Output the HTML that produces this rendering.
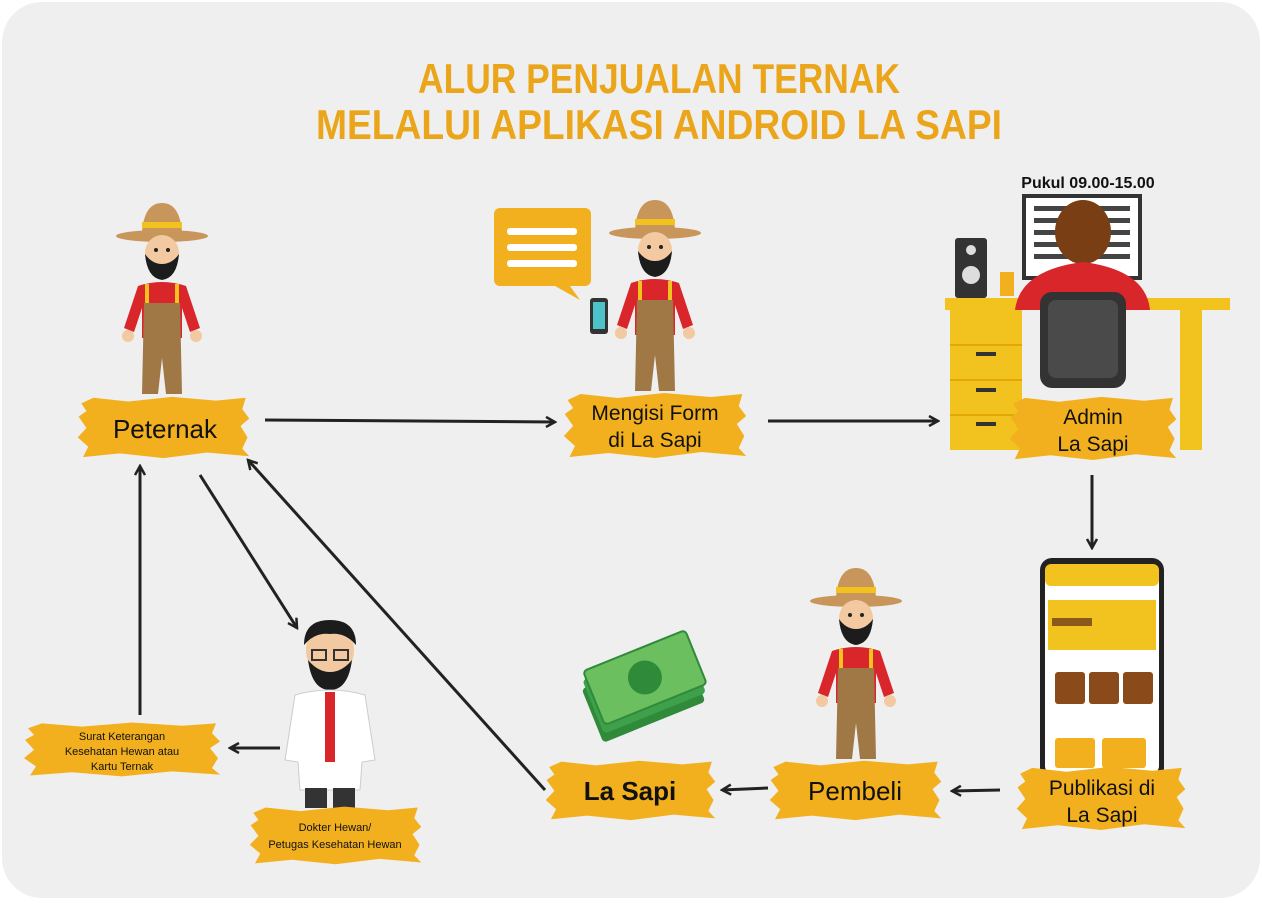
<!DOCTYPE html>
<html><head><meta charset="utf-8">
<style>
html,body{margin:0;padding:0;background:#fff;}
body{width:1262px;height:900px;overflow:hidden;font-family:"Liberation Sans",sans-serif;}
</style></head>
<body>
<svg width="1262" height="900" viewBox="0 0 1262 900" xmlns="http://www.w3.org/2000/svg">
<defs>
<marker id="ah" markerWidth="12" markerHeight="12" refX="10" refY="6" orient="auto" markerUnits="userSpaceOnUse">
<path d="M1,1 L10,6 L1,11" fill="none" stroke="#222" stroke-width="2.5"/>
</marker>
<symbol id="farmer" viewBox="0 0 100 200">
 <path d="M30,35 Q32,5 50,5 Q68,5 70,35 Z" fill="#c8955a"/>
 <rect x="30" y="24" width="40" height="6" fill="#f2c21e"/>
 <ellipse cx="50" cy="38" rx="46" ry="6" fill="#c8955a"/>
 <ellipse cx="50" cy="55" rx="17" ry="18" fill="#f2c9a0"/>
 <path d="M33,56 Q35,80 50,82 Q65,80 67,56 Q60,66 50,66 Q40,66 33,56Z" fill="#1c1c1c"/>
 <circle cx="44" cy="52" r="2" fill="#222"/><circle cx="56" cy="52" r="2" fill="#222"/>
 <path d="M26,88 Q50,80 74,88 L88,130 L78,134 L70,110 L70,140 L30,140 L30,110 L22,134 L12,130Z" fill="#d9262b"/>
 <circle cx="16" cy="138" r="6" fill="#f2c9a0"/><circle cx="84" cy="138" r="6" fill="#f2c9a0"/>
 <rect x="33" y="86" width="4" height="20" fill="#f2c21e"/><rect x="63" y="86" width="4" height="20" fill="#f2c21e"/>
 <path d="M32,105 L68,105 L70,196 L54,196 L50,160 L46,196 L30,196Z" fill="#a07845"/>
</symbol>
<symbol id="brush" viewBox="0 0 200 70" preserveAspectRatio="none">
 <path d="M6,10 L20,4 L60,8 L110,3 L160,7 L194,4 L190,16 L198,26 L188,34 L196,46 L190,58 L198,66 L150,62 L100,68 L50,63 L8,67 L14,56 L2,46 L12,36 L3,24 L12,18Z" fill="#f2b01e"/>
</symbol>
</defs>
<rect x="2" y="2" width="1258" height="896" rx="40" fill="#efefef"/>

<text x="418" y="93" textLength="482" lengthAdjust="spacingAndGlyphs" font-size="42" font-weight="bold" fill="#eba51a" font-family="Liberation Sans Narrow, Liberation Sans, sans-serif">ALUR PENJUALAN TERNAK</text>
<text x="316" y="139" textLength="686" lengthAdjust="spacingAndGlyphs" font-size="42" font-weight="bold" fill="#eba51a" font-family="Liberation Sans Narrow, Liberation Sans, sans-serif">MELALUI APLIKASI ANDROID LA SAPI</text>

<use href="#farmer" x="112" y="198" width="100" height="200"/>
<use href="#farmer" x="605" y="195" width="100" height="200"/>
<use href="#farmer" x="806" y="563" width="100" height="200"/>

<path d="M500,208 h85 a6,6 0 0 1 6,6 v66 a6,6 0 0 1 -6,6 h-15 l10,14 l-25,-14 h-55 a6,6 0 0 1 -6,-6 v-66 a6,6 0 0 1 6,-6z" fill="#f2b01e"/>
<rect x="507" y="228" width="70" height="7" rx="3" fill="#fff"/>
<rect x="507" y="244" width="70" height="7" rx="3" fill="#fff"/>
<rect x="507" y="260" width="70" height="7" rx="3" fill="#fff"/>
<rect x="590" y="298" width="18" height="36" rx="3" fill="#333"/><rect x="593" y="302" width="12" height="27" fill="#4cc3c9"/>

<text x="1088" y="188" text-anchor="middle" font-size="16" font-weight="bold" fill="#111">Pukul 09.00-15.00</text>
<rect x="1024" y="196" width="116" height="82" fill="#fff" stroke="#333" stroke-width="4"/>
<g fill="#444"><rect x="1034" y="206" width="96" height="5"/><rect x="1034" y="218" width="96" height="5"/><rect x="1034" y="230" width="96" height="5"/><rect x="1034" y="242" width="96" height="5"/><rect x="1034" y="254" width="96" height="5"/></g>
<rect x="955" y="238" width="32" height="60" rx="3" fill="#333"/><circle cx="971" cy="275" r="9" fill="#ddd"/><circle cx="971" cy="250" r="5" fill="#ddd"/>
<rect x="1000" y="272" width="14" height="24" fill="#f2b01e"/>
<rect x="945" y="298" width="285" height="12" fill="#f2c21e"/>
<rect x="950" y="310" width="72" height="140" fill="#f2c21e"/>
<g stroke="#e0a800" stroke-width="2"><line x1="950" y1="345" x2="1022" y2="345"/><line x1="950" y1="380" x2="1022" y2="380"/><line x1="950" y1="415" x2="1022" y2="415"/></g>
<g fill="#333"><rect x="976" y="352" width="20" height="4"/><rect x="976" y="388" width="20" height="4"/><rect x="976" y="422" width="20" height="4"/></g>
<rect x="1180" y="310" width="22" height="140" fill="#f2c21e"/>
<ellipse cx="1083" cy="232" rx="28" ry="32" fill="#7a3e14"/>
<path d="M1015,310 Q1020,270 1083,262 Q1146,270 1150,310Z" fill="#d9262b"/>
<rect x="1040" y="292" width="86" height="96" rx="12" fill="#333"/>
<rect x="1048" y="300" width="70" height="78" rx="8" fill="#4a4a4a"/>

<rect x="1040" y="558" width="124" height="222" rx="12" fill="#222"/>
<rect x="1045" y="564" width="114" height="210" rx="8" fill="#fff"/>
<rect x="1045" y="564" width="114" height="22" rx="6" fill="#f2c21e"/>
<rect x="1048" y="600" width="108" height="50" fill="#f2c21e"/>
<rect x="1052" y="618" width="40" height="8" fill="#8a5a1a"/>
<g fill="#8a4a1a"><rect x="1055" y="672" width="30" height="32" rx="3"/><rect x="1089" y="672" width="30" height="32" rx="3"/><rect x="1123" y="672" width="30" height="32" rx="3"/></g>
<g fill="#f2b01e"><rect x="1055" y="738" width="40" height="30" rx="3"/><rect x="1102" y="738" width="44" height="30" rx="3"/></g>

<g transform="rotate(-22 640 700)">
<rect x="590" y="668" width="110" height="58" rx="4" fill="#2f8a3a"/>
<rect x="594" y="660" width="110" height="58" rx="4" fill="#3fa04b"/>
<rect x="598" y="652" width="110" height="58" rx="4" fill="#6cbf5f" stroke="#2f8a3a" stroke-width="2"/>
<circle cx="653" cy="681" r="17" fill="#2f8a3a"/>
</g>

<ellipse cx="330" cy="650" rx="24" ry="28" fill="#f2c9a0"/>
<path d="M304,645 Q304,620 330,620 Q356,620 356,645 Q345,632 330,634 Q315,632 304,645Z" fill="#1c1c1c"/>
<path d="M308,660 Q312,690 330,690 Q348,690 352,660 Q342,672 330,672 Q318,672 308,660Z" fill="#1c1c1c"/>
<rect x="312" y="650" width="14" height="10" fill="none" stroke="#333" stroke-width="2"/><rect x="334" y="650" width="14" height="10" fill="none" stroke="#333" stroke-width="2"/>
<path d="M295,695 Q330,685 365,695 L375,760 L362,762 L360,790 L300,790 L298,762 L285,760Z" fill="#fff" stroke="#ccc"/>
<rect x="325" y="692" width="10" height="70" fill="#d9262b"/>
<rect x="305" y="788" width="22" height="20" fill="#333"/><rect x="333" y="788" width="22" height="20" fill="#333"/>

<use href="#brush" x="76" y="394" width="175" height="66"/>
<text x="165" y="438" text-anchor="middle" font-size="26" fill="#111">Peternak</text>
<use href="#brush" x="562" y="390" width="186" height="70"/>
<text x="655" y="420" text-anchor="middle" font-size="21" fill="#111">Mengisi Form</text>
<text x="655" y="447" text-anchor="middle" font-size="21" fill="#111">di La Sapi</text>
<use href="#brush" x="1008" y="394" width="170" height="68"/>
<text x="1093" y="424" text-anchor="middle" font-size="21" fill="#111">Admin</text>
<text x="1093" y="451" text-anchor="middle" font-size="21" fill="#111">La Sapi</text>
<use href="#brush" x="1015" y="764" width="172" height="68"/>
<text x="1102" y="795" text-anchor="middle" font-size="21" fill="#111">Publikasi di</text>
<text x="1102" y="822" text-anchor="middle" font-size="21" fill="#111">La Sapi</text>
<use href="#brush" x="768" y="758" width="175" height="64"/>
<text x="855" y="800" text-anchor="middle" font-size="26" fill="#111">Pembeli</text>
<use href="#brush" x="544" y="758" width="173" height="64"/>
<text x="630" y="800" text-anchor="middle" font-size="26" font-weight="bold" fill="#111">La Sapi</text>
<use href="#brush" x="248" y="804" width="175" height="62"/>
<text x="335" y="831" text-anchor="middle" font-size="11" fill="#111">Dokter Hewan/</text>
<text x="335" y="848" text-anchor="middle" font-size="11" fill="#111">Petugas Kesehatan Hewan</text>
<use href="#brush" x="22" y="720" width="200" height="58"/>
<text x="122" y="740" text-anchor="middle" font-size="11" fill="#111">Surat Keterangan</text>
<text x="122" y="755" text-anchor="middle" font-size="11" fill="#111">Kesehatan Hewan atau</text>
<text x="122" y="770" text-anchor="middle" font-size="11" fill="#111">Kartu Ternak</text>

<g stroke="#222" stroke-width="3" fill="none" marker-end="url(#ah)">
<line x1="265" y1="420" x2="555" y2="422"/>
<line x1="768" y1="421" x2="938" y2="421"/>
<line x1="1092" y1="475" x2="1092" y2="548"/>
<line x1="1000" y1="790" x2="952" y2="791"/>
<line x1="768" y1="788" x2="722" y2="790"/>
<line x1="545" y1="790" x2="248" y2="460"/>
<line x1="200" y1="475" x2="297" y2="628"/>
<line x1="280" y1="748" x2="230" y2="748"/>
<line x1="140" y1="715" x2="140" y2="466"/>
</g>
</svg>
</body></html>
